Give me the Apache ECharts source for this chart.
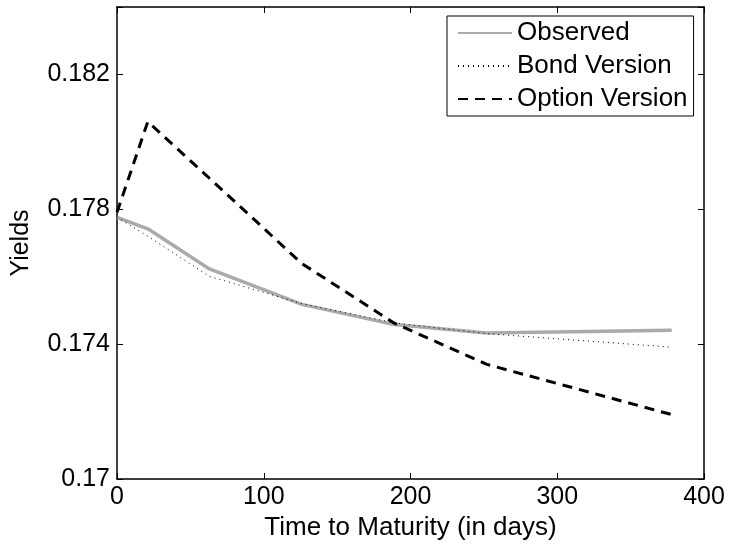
<!DOCTYPE html>
<html>
<head>
<meta charset="utf-8">
<script src="https://cdn.jsdelivr.net/npm/echarts@6/dist/echarts.min.js"></script>
<style>
html,body{margin:0;padding:0;background:#fff;}
#c{width:729px;height:547px;}
</style>
</head>
<body>
<div id="c"></div>
<script>
const days = [0, 21, 63, 126, 189, 252, 378];
const observed = [0.17776, 0.17742, 0.17623, 0.17518, 0.17458, 0.17433, 0.17441];
const bondVersion = [0.17776, 0.17720, 0.17601, 0.17520, 0.17463, 0.17431, 0.17391];
const optionVersion = [0.17791, 0.18060, 0.17892, 0.17639, 0.17462, 0.17340, 0.17191];
const seriesNames = ['Observed', 'Bond Version', 'Option Version'];
const xTicks = [0, 100, 200, 300, 400];
const yTicks = [0.17, 0.174, 0.178, 0.182];

const FONT = 'Liberation Sans';
const FS = 25;
const pairs = arr => days.map((d, i) => [d, arr[i]]);

const chart = echarts.init(document.getElementById('c'), null, {renderer: 'canvas'});
const axisLine = {show: true, onZero: false, lineStyle: {color: '#000', width: 1.5}};
const axisTick = {show: true, inside: true, length: 6, lineStyle: {color: '#000', width: 1}};
chart.setOption({
  animation: false,
  backgroundColor: '#fff',
  grid: {left: 117, right: 25, top: 7, bottom: 68, containLabel: false},
  legend: {
    orient: 'vertical',
    left: 447, top: 16,
    data: seriesNames,
    itemWidth: 54, itemHeight: 24, itemGap: 7,
    padding: [4, 6, 4, 10],
    borderColor: '#000', borderWidth: 1,
    backgroundColor: '#fff',
    textStyle: {fontFamily: FONT, fontSize: 26, color: '#000'},
    itemStyle: {opacity: 0}
  },
  xAxis: [{
    type: 'value', min: xTicks[0], max: xTicks[xTicks.length - 1], interval: 100,
    position: 'bottom',
    axisLine, axisTick, splitLine: {show: false},
    axisLabel: {fontFamily: FONT, fontSize: FS, color: '#000', margin: 6},
    name: 'Time to Maturity (in days)', nameLocation: 'middle', nameGap: 29,
    nameTextStyle: {fontFamily: FONT, fontSize: 26, color: '#000'}
  }, {
    type: 'value', min: xTicks[0], max: xTicks[xTicks.length - 1], interval: 100,
    position: 'top',
    axisLine, axisTick, splitLine: {show: false}, axisLabel: {show: false}
  }],
  yAxis: [{
    type: 'value', min: 0.17, max: 0.184, interval: 0.004,
    position: 'left',
    axisLine, axisTick, splitLine: {show: false},
    axisLabel: {
      fontFamily: FONT, fontSize: FS, color: '#000', margin: 7,
      formatter: v => {
        const r = Math.round(v * 1000) / 1000;
        return yTicks.some(t => Math.abs(t - r) < 1e-9) ? String(r) : '';
      }
    },
    name: 'Yields', nameLocation: 'middle', nameGap: 83, nameRotate: 90,
    nameTextStyle: {fontFamily: FONT, fontSize: FS, color: '#000'}
  }, {
    type: 'value', min: 0.17, max: 0.184, interval: 0.004,
    position: 'right',
    axisLine, axisTick, splitLine: {show: false}, axisLabel: {show: false}
  }],
  series: [{
    name: seriesNames[0], type: 'line', data: pairs(observed), symbol: 'none',
    lineStyle: {color: '#aaaaaa', width: 3.5, type: 'solid'},
    itemStyle: {color: '#aaaaaa'}, z: 2
  }, {
    name: seriesNames[1], type: 'line', data: pairs(bondVersion), symbol: 'none',
    lineStyle: {color: '#000', width: 1, type: [1, 4]},
    itemStyle: {color: '#000'}, z: 3
  }, {
    name: seriesNames[2], type: 'line', data: pairs(optionVersion), symbol: 'none',
    lineStyle: {color: '#000', width: 3, type: [10, 7]},
    itemStyle: {color: '#000'}, z: 4
  }]
});
</script>
</body>
</html>
